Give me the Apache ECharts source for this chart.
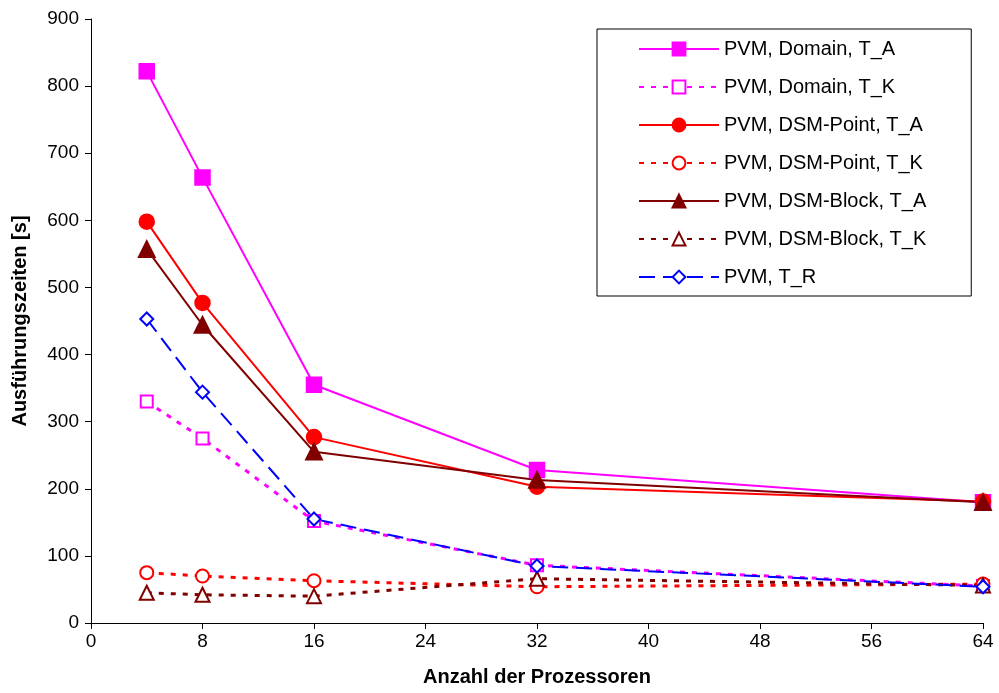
<!DOCTYPE html>
<html>
<head>
<meta charset="utf-8">
<script src="https://cdn.jsdelivr.net/npm/echarts@6/dist/echarts.min.js"></script>
<style>
  html, body { margin: 0; padding: 0; background: #fff; }
  #chart { width: 999px; height: 693px; }
</style>
</head>
<body>
<div id="chart"></div>
<script>
var procs = [4, 8, 16, 32, 64];
var domainTA = [822, 664, 355, 228, 180];
var domainTK = [330, 275, 152, 86, 55];
var pointTA = [598, 477, 277, 203, 181];
var pointTK = [75, 70, 63, 54, 58];
var blockTA = [557, 444, 255, 213, 180];
var blockTK = [45, 42, 40, 66, 56];
var pvmTR = [453, 344, 155, 85, 54];

function pairs(vals) {
    return procs.map(function (p, i) { return [p, vals[i]]; });
}

function mkSeries(name, vals, color, symbol, size, dash, width) {
    return {
        name: name,
        type: 'line',
        data: pairs(vals),
        symbol: symbol,
        symbolSize: size,
        color: color,
        itemStyle: { color: color, borderColor: color, borderWidth: 2.5 },
        lineStyle: { color: color, width: width, type: dash },
        emphasis: { disabled: true },
        animation: false
    };
}

var chart = echarts.init(document.getElementById('chart'));
var option = {
    backgroundColor: '#fff',
    textStyle: { fontFamily: 'Liberation Sans, Arial, sans-serif' },
    grid: { left: 91, right: 16, top: 19, bottom: 70 },
    legend: {
        orient: 'vertical',
        left: 597,
        top: 29,
        padding: [10, 45, 9, 41],
        itemGap: 18,
        itemWidth: 80,
        itemHeight: 16,
        borderColor: '#000',
        borderWidth: 1,
        backgroundColor: '#fff',
        textStyle: { fontSize: 20, color: '#000', fontFamily: 'Liberation Sans, Arial, sans-serif' },
        data: ['PVM, Domain, T_A', 'PVM, Domain, T_K', 'PVM, DSM-Point, T_A', 'PVM, DSM-Point, T_K',
               'PVM, DSM-Block, T_A', 'PVM, DSM-Block, T_K', 'PVM, T_R']
    },
    xAxis: {
        type: 'value',
        min: 0,
        max: 64,
        interval: 8,
        name: 'Anzahl der Prozessoren',
        nameLocation: 'middle',
        nameGap: 44,
        nameTextStyle: { fontWeight: 'bold', fontSize: 20, color: '#000' },
        splitLine: { show: false },
        axisLine: { lineStyle: { color: '#000', width: 1 } },
        axisTick: { show: true, length: 6, lineStyle: { color: '#000' } },
        axisLabel: { fontSize: 19, color: '#000', margin: 9 }
    },
    yAxis: {
        type: 'value',
        min: 0,
        max: 900,
        interval: 100,
        name: 'Ausführungszeiten [s]',
        nameLocation: 'middle',
        nameGap: 61,
        nameRotate: 90,
        nameTextStyle: { fontWeight: 'bold', fontSize: 20, color: '#000' },
        splitLine: { show: false },
        axisLine: { show: true, lineStyle: { color: '#000', width: 1 } },
        axisTick: { show: true, length: 6, lineStyle: { color: '#000' } },
        axisLabel: { fontSize: 19, color: '#000', margin: 12 }
    },
    series: [
        mkSeries('PVM, Domain, T_A', domainTA, '#ff00ff', 'rect', 14, 'solid', 2),
        mkSeries('PVM, Domain, T_K', domainTK, '#ff00ff', 'emptyRect', 12, [5, 7], 3),
        mkSeries('PVM, DSM-Point, T_A', pointTA, '#ff0000', 'circle', 14, 'solid', 2),
        mkSeries('PVM, DSM-Point, T_K', pointTK, '#ff0000', 'emptyCircle', 13, [5, 7], 3),
        mkSeries('PVM, DSM-Block, T_A', blockTA, '#800000', 'triangle', 15, 'solid', 2),
        mkSeries('PVM, DSM-Block, T_K', blockTK, '#800000', 'emptyTriangle', 14, [5, 7], 3),
        mkSeries('PVM, T_R', pvmTR, '#0000ff', 'emptyDiamond', 13, [16, 8], 2)
    ]
};
chart.setOption(option);
</script>
</body>
</html>
